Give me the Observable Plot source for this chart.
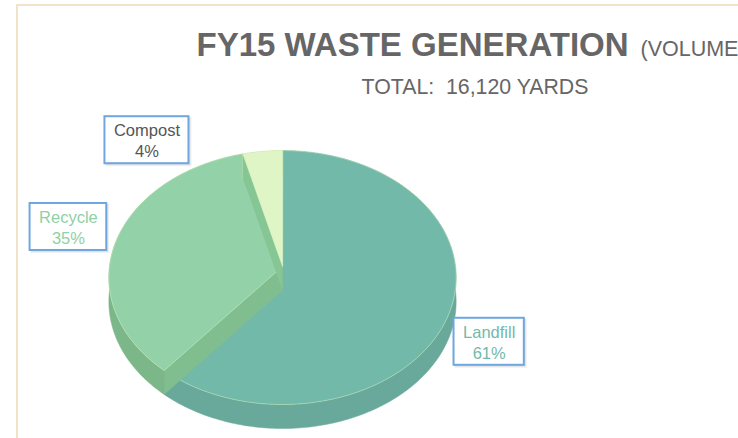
<!DOCTYPE html>
<html>
<head>
<meta charset="utf-8">
<script src="https://cdn.jsdelivr.net/npm/d3@7"></script>
<script src="https://cdn.jsdelivr.net/npm/@observablehq/plot@0.6"></script>
<style>
  html, body { margin: 0; padding: 0; background: #fff; overflow: hidden; width: 738px; height: 438px; }
  #chart { position: absolute; left: 0; top: 0; }
  #frame { position: absolute; left: 16px; top: 4px; width: 900px; height: 600px;
           border-left: 2px solid #f1e2c8; border-top: 2px solid #f1e2c8; pointer-events: none; z-index: 2; }
</style>
</head>
<body>
<div id="chart"></div>
<div id="frame"></div>
<script>
// ---- data ----
const categories = ["Landfill", "Recycle", "Compost"];
const shares = [61, 35, 4];               // percent of total volume
const shareLabels = ["61%", "35%", "4%"];
const totalYards = 16120;
const titleMain = "FY15 WASTE GENERATION";
const titleNote = "(VOLUME)";
const subtitleText = `TOTAL:  ${d3.format(",")(totalYards)} YARDS`;

// ---- style ----
const topFill   = {Landfill: "#73b9aa", Recycle: "#93d2a8", Compost: "#dff5c6"};
const sideFill  = {Landfill: "#68a99b", Recycle: "#7cb78a", Compost: "#c4e2a6"};
const wallFill  = {Landfill: "#6aac9e", Recycle: "#80be8f", Compost: "#86c594"};
const labelInk  = {Landfill: "#73b9aa", Recycle: "#8fd0a5", Compost: "#555555"};
const FONT = "'Liberation Sans', Arial, Helvetica, sans-serif";

// ---- layout ----
const W = 738, H = 438;
const cx = 282, cy = 266, rx = 173, ry = 126, persp = 0.087, depth = 24;
const labelRadius = 1.28;
const labelNudge = {Landfill: [-8, 19], Recycle: [-2, -5], Compost: [-110, 21]};

function P(theta, z = 0, r = 1) {
  const t = theta * Math.PI / 180, c = Math.sin(t), s = -Math.cos(t);
  const f = 1 / (1 - persp * s);
  return {x: cx + rx * c * f * r, y: cy + ry * s * f * r + z};
}
function arc(a0, a1, z) {
  const n = Math.max(2, Math.ceil((a1 - a0) / 1));
  return d3.range(n + 1).map(i => P(a0 + (a1 - a0) * i / n, z));
}

const total = d3.sum(shares);
let acc = 0;
const slices = categories.map((name, i) => {
  const a0 = acc / total * 360; acc += shares[i]; const a1 = acc / total * 360;
  return {name, value: shares[i], label: shareLabels[i], a0, a1};
});

const marks = [];
for (const s of slices) {
  const side = [...arc(s.a0, s.a1, 0), ...arc(s.a0, s.a1, depth).reverse()];
  marks.push(Plot.line(side, {x: "x", y: "y", curve: "linear-closed", fill: sideFill[s.name], stroke: sideFill[s.name], strokeWidth: 0.5}));
  for (const a of [s.a0, s.a1]) {
    const wall = [P(0, 0, 0), P(a, 0), P(a, depth), P(0, depth, 0)];
    marks.push(Plot.line(wall, {x: "x", y: "y", curve: "linear-closed", fill: wallFill[s.name], stroke: "none"}));
  }
  const top = [P(0, 0, 0), ...arc(s.a0, s.a1, 0)];
  marks.push(Plot.line(top, {x: "x", y: "y", curve: "linear-closed", fill: topFill[s.name], stroke: "#cdeeb8", strokeWidth: 0.8, strokeOpacity: 0.6}));
}

// labels
const ctx = document.createElement("canvas").getContext("2d");
const LFS = 16.5;
ctx.font = `${LFS}px ${FONT}`;
const labels = slices.map(s => {
  const mid = (s.a0 + s.a1) / 2;
  const p = P(mid, 0, labelRadius);
  const [dx, dy] = labelNudge[s.name];
  const text = `${s.name}\n${s.label}`;
  const tw = d3.max(text.split("\n"), t => ctx.measureText(t).width);
  const x = p.x + dx, y = p.y + dy;
  return {name: s.name, text, x, y, x1: x - tw / 2 - 9, x2: x + tw / 2 + 9, y1: y - 23.5, y2: y + 23.5};
});
marks.push(Plot.rect(labels, {x1: d => d.x1 + 1, x2: d => d.x2 + 3, y1: d => d.y1 + 1, y2: d => d.y2 + 3, fill: "#000", fillOpacity: 0.06}));
marks.push(Plot.rect(labels, {x1: d => d.x1 + 1, x2: d => d.x2 + 2, y1: d => d.y1 + 1, y2: d => d.y2 + 2, fill: "#000", fillOpacity: 0.06}));
marks.push(Plot.rect(labels, {x1: "x1", x2: "x2", y1: "y1", y2: "y2", fill: "white", stroke: "#6ea7df", strokeWidth: 2}));
marks.push(Plot.text(labels, {x: "x", y: "y", text: "text", fill: d => labelInk[d.name], fontSize: LFS, lineHeight: 1.27, fontFamily: FONT}));

// titles
marks.push(Plot.text([titleMain], {x: () => 196, y: () => 55, text: d => d, textAnchor: "start", lineAnchor: "bottom", fontSize: 33, fontWeight: "bold", fill: "#666666", fontFamily: FONT}));
marks.push(Plot.text([titleNote], {x: () => 640, y: () => 55, text: d => d, textAnchor: "start", lineAnchor: "bottom", fontSize: 21.5, fill: "#666666", fontFamily: FONT}));
marks.push(Plot.text([subtitleText], {x: () => 474.5, y: () => 93, text: d => d, textAnchor: "middle", lineAnchor: "bottom", fontSize: 21.3, fill: "#666666", fontFamily: FONT}));

const chart = Plot.plot({
  width: W, height: H, margin: 0,
  x: {domain: [0, W], range: [0, W], axis: null},
  y: {domain: [0, H], range: [0, H], axis: null},
  style: {background: "white", fontFamily: FONT},
  marks
});
document.getElementById("chart").appendChild(chart);
</script>
</body>
</html>
